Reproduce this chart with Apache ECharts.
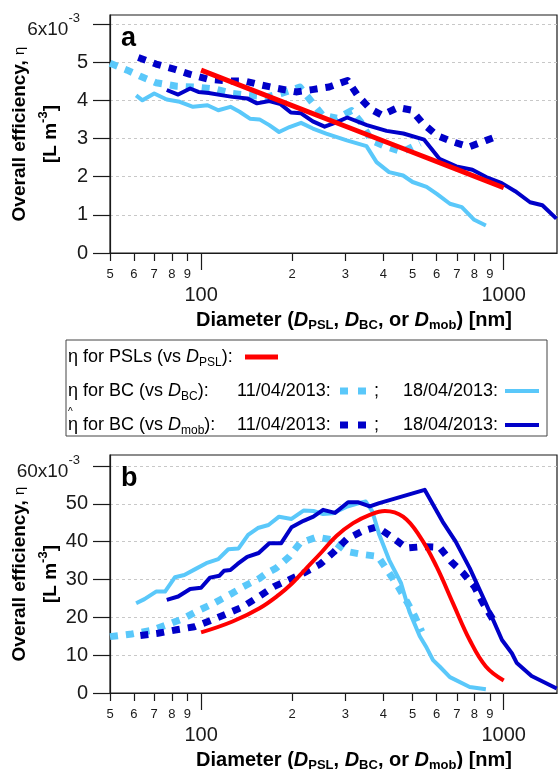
<!DOCTYPE html>
<html>
<head>
<meta charset="utf-8">
<script src="https://cdn.jsdelivr.net/npm/echarts@6/dist/echarts.min.js"></script>
<style>
html,body{margin:0;padding:0;background:#fff;}
#chart{width:558px;height:769px;}
</style>
</head>
<body>
<div id="chart"></div>
<script>
// diameters in nm, efficiencies in units of 1e-3 L m-3

// panel a
var pslA_d = [100, 200, 300, 500, 700, 1000];
var pslA_eta = [4.79, 3.86, 3.32, 2.64, 2.19, 1.71];
var bcDashA_d = [50, 57, 63, 71, 83, 98, 112, 127, 145, 165, 186, 212, 233, 252, 281, 314, 338, 365, 410, 462, 529];
var bcDashA_eta = [4.97, 4.79, 4.63, 4.46, 4.37, 4.34, 4.29, 4.18, 4.13, 4.09, 4.19, 4.35, 3.94, 3.61, 3.53, 3.73, 3.42, 2.95, 2.78, 2.65, 2.88];
var mobDashA_d = [62, 71, 82, 92, 106, 122, 140, 158, 179, 206, 233, 265, 305, 329, 362, 396, 447, 497, 538, 601, 680, 768, 876, 968];
var mobDashA_eta = [5.12, 4.95, 4.81, 4.68, 4.55, 4.51, 4.50, 4.40, 4.31, 4.22, 4.28, 4.35, 4.52, 4.13, 3.78, 3.61, 3.81, 3.74, 3.41, 3.08, 2.91, 2.78, 2.95, 3.08];
var bcSolidA_d = [61, 64, 70, 77, 85, 94, 105, 114, 125, 134, 145, 156, 168, 181, 196, 214, 234, 259, 303, 352, 380, 418, 465, 500, 556, 601, 664, 727, 799, 873];
var bcSolidA_eta = [4.13, 4.00, 4.18, 4.02, 3.96, 3.83, 3.87, 3.74, 3.83, 3.70, 3.52, 3.50, 3.35, 3.17, 3.30, 3.41, 3.26, 3.13, 2.95, 2.80, 2.38, 2.12, 2.03, 1.86, 1.73, 1.55, 1.29, 1.20, 0.87, 0.72];
var mobSolidA_d = [77, 84, 92, 98, 106, 118, 127, 142, 153, 168, 183, 198, 214, 234, 256, 281, 304, 353, 410, 466, 546, 613, 697, 788, 875, 985, 1091, 1222, 1342, 1493];
var mobSolidA_eta = [4.27, 4.15, 4.31, 4.22, 4.19, 4.13, 4.09, 4.05, 3.92, 3.98, 3.90, 3.68, 3.66, 3.45, 3.31, 3.43, 3.55, 3.35, 3.20, 3.13, 2.97, 2.47, 2.27, 2.18, 1.99, 1.83, 1.62, 1.33, 1.25, 0.90];

// panel b
var pslB_d = [100, 127, 156, 181, 200, 220, 250, 280, 318, 361, 405, 465, 528, 600, 680, 772, 873, 1000];
var pslB_eta = [16.0, 18.9, 22.4, 26.0, 29.0, 32.5, 37.2, 41.5, 44.9, 47.1, 48.1, 46.6, 41.4, 33.4, 23.7, 14.0, 7.0, 3.3];
var bcDashB_d = [50, 59, 68, 77, 87, 98, 110, 127, 138, 145, 156, 165, 177, 196, 212, 241, 270, 303, 343, 384, 415, 448, 478, 509, 536];
var bcDashB_eta = [14.9, 15.6, 16.5, 18.0, 19.6, 21.8, 23.7, 26.4, 28.1, 29.0, 30.3, 31.7, 33.0, 36.1, 39.6, 41.2, 40.5, 37.4, 36.6, 36.1, 32.1, 28.1, 24.2, 20.2, 16.2];
var mobDashB_d = [63, 72, 83, 95, 107, 123, 136, 154, 174, 195, 218, 248, 274, 303, 340, 381, 432, 478, 543, 614, 671, 734, 802, 855, 923];
var mobDashB_eta = [15.2, 15.8, 16.7, 17.5, 19.1, 21.1, 22.6, 25.3, 28.1, 29.9, 31.7, 34.1, 37.2, 40.7, 42.7, 43.9, 40.9, 38.3, 38.7, 38.5, 34.7, 31.7, 28.0, 23.7, 19.3];
var bcSolidB_d = [61, 65, 71, 76, 82, 88, 96, 104, 114, 123, 133, 143, 154, 167, 181, 199, 218, 235, 253, 273, 302, 333, 350, 368, 388, 418, 458, 488, 528, 556, 584, 614, 664, 772, 873];
var bcSolidB_eta = [23.7, 24.8, 26.8, 26.8, 30.6, 31.2, 32.8, 34.3, 35.4, 38.0, 38.2, 41.8, 43.6, 44.4, 46.6, 46.0, 48.2, 48.1, 47.3, 47.5, 49.2, 50.2, 50.6, 48.0, 41.8, 35.2, 29.0, 21.5, 15.0, 12.0, 8.7, 7.0, 4.2, 1.6, 1.0];
var mobSolidB_d = [77, 84, 92, 100, 107, 115, 119, 125, 132, 142, 155, 168, 184, 199, 218, 235, 253, 277, 306, 331, 361, 388, 548, 628, 694, 772, 873, 987, 1064, 1105, 1236, 1497];
var mobSolidB_eta = [24.6, 25.5, 27.5, 27.8, 30.5, 31.0, 32.3, 32.5, 34.1, 36.0, 37.0, 39.6, 39.6, 43.8, 45.5, 46.6, 48.4, 47.6, 50.4, 50.4, 49.3, 50.2, 53.7, 45.3, 40.0, 33.0, 23.7, 14.0, 10.5, 7.9, 4.5, 1.2];

// axes
var xMin = 50, xMax = 1500;
var minorTicks = [50, 60, 70, 80, 90, 200, 300, 400, 500, 600, 700, 800, 900];
var majorTicks = [100, 1000];
var yTicksA = [0, 1, 2, 3, 4, 5, 6];
var yTicksB = [0, 10, 20, 30, 40, 50, 60];

var FONT = "'Liberation Sans', Arial, sans-serif";
var RED = '#ff0000', LIGHT = '#5ac8fa', DARK = '#0000c8', INK = '#1a1a1a';

function pts(d, v) {
	return d.map(function (x, i) { return [Math.log10(x), v[i]]; });
}

function line(xi, yi, d, v, color, width, dashed, smooth) {
	return {
		type: 'line', xAxisIndex: xi, yAxisIndex: yi,
		data: pts(d, v), showSymbol: false, smooth: smooth || false,
		lineStyle: { color: color, width: width, type: dashed ? [8, 8] : 'solid', cap: 'butt', join: 'round' },
		z: dashed ? 2 : 3
	};
}

function xAxes(grid) {
	var minorLog = minorTicks.map(Math.log10);
	var majorLog = majorTicks.map(Math.log10);
	return [{
		gridIndex: grid, type: 'value', position: 'bottom',
		min: Math.log10(xMin), max: Math.log10(xMax),
		axisLine: { show: true, lineStyle: { color: INK, width: 1.2 } },
		axisTick: { show: true, length: 8, customValues: minorLog, lineStyle: { color: INK, width: 1.2 } },
		axisLabel: {
			customValues: minorLog, margin: 15, fontSize: 13, color: INK, fontFamily: FONT,
			formatter: function (v) { return String(Math.round(Math.pow(10, v))).charAt(0); }
		},
		splitLine: { show: false }
	}, {
		gridIndex: grid, type: 'value', position: 'bottom',
		min: Math.log10(xMin), max: Math.log10(xMax),
		axisLine: { show: false },
		axisTick: { show: true, length: 17, customValues: majorLog, lineStyle: { color: INK, width: 1.2 } },
		axisLabel: {
			customValues: majorLog, margin: 32, fontSize: 20, color: INK, fontFamily: FONT,
			formatter: function (v) { return String(Math.round(Math.pow(10, v))); }
		},
		splitLine: { show: false }
	}];
}

function yAxis(grid, max, ticks, topLabel) {
	var top = ticks[ticks.length - 1];
	return {
		gridIndex: grid, type: 'value', min: 0, max: max, interval: ticks[1] - ticks[0],
		axisLine: { show: true, lineStyle: { color: INK, width: 1.2 } },
		axisTick: { show: true, length: 17, customValues: ticks, lineStyle: { color: INK, width: 1.2 } },
		axisLabel: {
			customValues: ticks, margin: 22, fontSize: 20, color: INK, fontFamily: FONT,
			formatter: function (v) { return v === top ? '{m|' + topLabel + '}{s|-3}' : String(v); },
			rich: {
				m: { fontSize: 19, fontFamily: FONT, color: INK, padding: [12, 0, 0, 0] },
				s: { fontSize: 13, fontFamily: FONT, color: INK, padding: [0, 8, 12, 0] }
			}
		},
		splitLine: { show: true, lineStyle: { color: '#c8c8c8', width: 1, type: [3, 3] } }
	};
}

function text(x, y, str, extra) {
	var st = { text: str, fill: '#000', fontFamily: FONT, fontSize: 18, align: 'left', verticalAlign: 'middle' };
	for (var k in extra) st[k] = extra[k];
	return { type: 'text', x: x, y: y, style: st, z: 10 };
}

function seg(x1, x2, y, color, width, dash) {
	return { type: 'line', shape: { x1: x1, y1: y, x2: x2, y2: y },
		style: { stroke: color, lineWidth: width, lineDash: dash || null, lineCap: 'butt' }, z: 10 };
}

var richSub = {
	n: { fontSize: 18, fontFamily: FONT, fill: '#000' },
	i: { fontSize: 18, fontFamily: FONT, fontStyle: 'italic', fill: '#000' },
	sb: { fontSize: 12, fontFamily: FONT, fill: '#000', padding: [11, 0, 0, 0] }
};
var richTitle = {
	b: { fontSize: 20, fontWeight: 'bold', fontFamily: FONT, fill: '#000' },
	bi: { fontSize: 20, fontWeight: 'bold', fontStyle: 'italic', fontFamily: FONT, fill: '#000' },
	sb: { fontSize: 13, fontWeight: 'bold', fontFamily: FONT, fill: '#000', padding: [11, 0, 0, 0] }
};
var richY = {
	t: { fontSize: 19, fontWeight: 'bold', fontFamily: FONT, fill: '#000', lineHeight: 31 },
	e: { fontSize: 15, fontFamily: FONT, fill: '#000' },
	s: { fontSize: 13, fontWeight: 'bold', fontFamily: FONT, fill: '#000', padding: [0, 0, 14, 0] }
};
var xTitle = '{b|Diameter (}{bi|D}{sb|PSL}{b|, }{bi|D}{sb|BC}{b|, or }{bi|D}{sb|mob}{b|) [nm]}';
var yTitle = '{t|Overall efficiency, }{e|\u03b7}\n{t|[L m}{s|-3}{t|]}';

var graphics = [
	text(121, 39, 'a', { fontSize: 27, fontWeight: 'bold' }),
	text(121, 479, 'b', { fontSize: 27, fontWeight: 'bold' }),
	{ type: 'text', x: 35, y: 134, rotation: Math.PI / 2, z: 10,
		style: { text: yTitle, rich: richY, align: 'center', verticalAlign: 'middle', fontFamily: FONT } },
	{ type: 'text', x: 35, y: 574, rotation: Math.PI / 2, z: 10,
		style: { text: yTitle, rich: richY, align: 'center', verticalAlign: 'middle', fontFamily: FONT } },
	text(354, 320, xTitle, { rich: richTitle, align: 'center' }),
	text(354, 760, xTitle, { rich: richTitle, align: 'center' }),

	// legend box
	{ type: 'rect', shape: { x: 66, y: 340, width: 481, height: 96 }, style: { fill: 'none', stroke: '#444', lineWidth: 1 }, z: 9 },
	text(68, 357, '{n|\u03b7 for PSLs (vs }{i|D}{sb|PSL}{n|):}', { rich: richSub }),
	seg(245, 278, 357, RED, 5),
	text(68, 391, '{n|\u03b7 for BC (vs }{i|D}{sb|BC}{n|):}', { rich: richSub }),
	text(237, 391, '11/04/2013:'),
	seg(340, 366, 391, LIGHT, 7, [8, 10]),
	text(374, 391, ';'),
	text(403, 391, '18/04/2013:'),
	seg(505, 539, 391, LIGHT, 4),
	text(68, 425, '{n|\u03b7 for BC (vs }{i|D}{sb|mob}{n|):}', { rich: richSub }),
	text(68, 412, '^', { fontSize: 10 }),
	text(237, 425, '11/04/2013:'),
	seg(340, 366, 425, DARK, 7, [8, 10]),
	text(374, 425, ';'),
	text(403, 425, '18/04/2013:'),
	seg(505, 539, 425, DARK, 4)
];

var chart = echarts.init(document.getElementById('chart'), null, { renderer: 'canvas' });
chart.setOption({
	animation: false,
	backgroundColor: '#fff',
	textStyle: { fontFamily: FONT },
	grid: [
		{ left: 110, top: 15, width: 447, height: 238, show: true, borderColor: INK, borderWidth: 1.2, outerBoundsMode: 'none' },
		{ left: 110, top: 455, width: 447, height: 238, show: true, borderColor: INK, borderWidth: 1.2, outerBoundsMode: 'none' }
	],
	xAxis: xAxes(0).concat(xAxes(1)),
	yAxis: [
		yAxis(0, 6.235, yTicksA, '6x10'),
		yAxis(1, 62.9, yTicksB, '60x10')
	],
	series: [
		line(0, 0, bcDashA_d, bcDashA_eta, LIGHT, 7, true),
		line(0, 0, mobDashA_d, mobDashA_eta, DARK, 7, true),
		line(0, 0, bcSolidA_d, bcSolidA_eta, LIGHT, 4),
		line(0, 0, mobSolidA_d, mobSolidA_eta, DARK, 4),
		line(0, 0, pslA_d, pslA_eta, RED, 5),
		line(2, 1, bcDashB_d, bcDashB_eta, LIGHT, 7, true),
		line(2, 1, mobDashB_d, mobDashB_eta, DARK, 7, true),
		line(2, 1, bcSolidB_d, bcSolidB_eta, LIGHT, 4),
		line(2, 1, mobSolidB_d, mobSolidB_eta, DARK, 4),
		line(2, 1, pslB_d, pslB_eta, RED, 4, false, 0.4)
	],
	graphic: graphics
});
</script>
</body>
</html>
